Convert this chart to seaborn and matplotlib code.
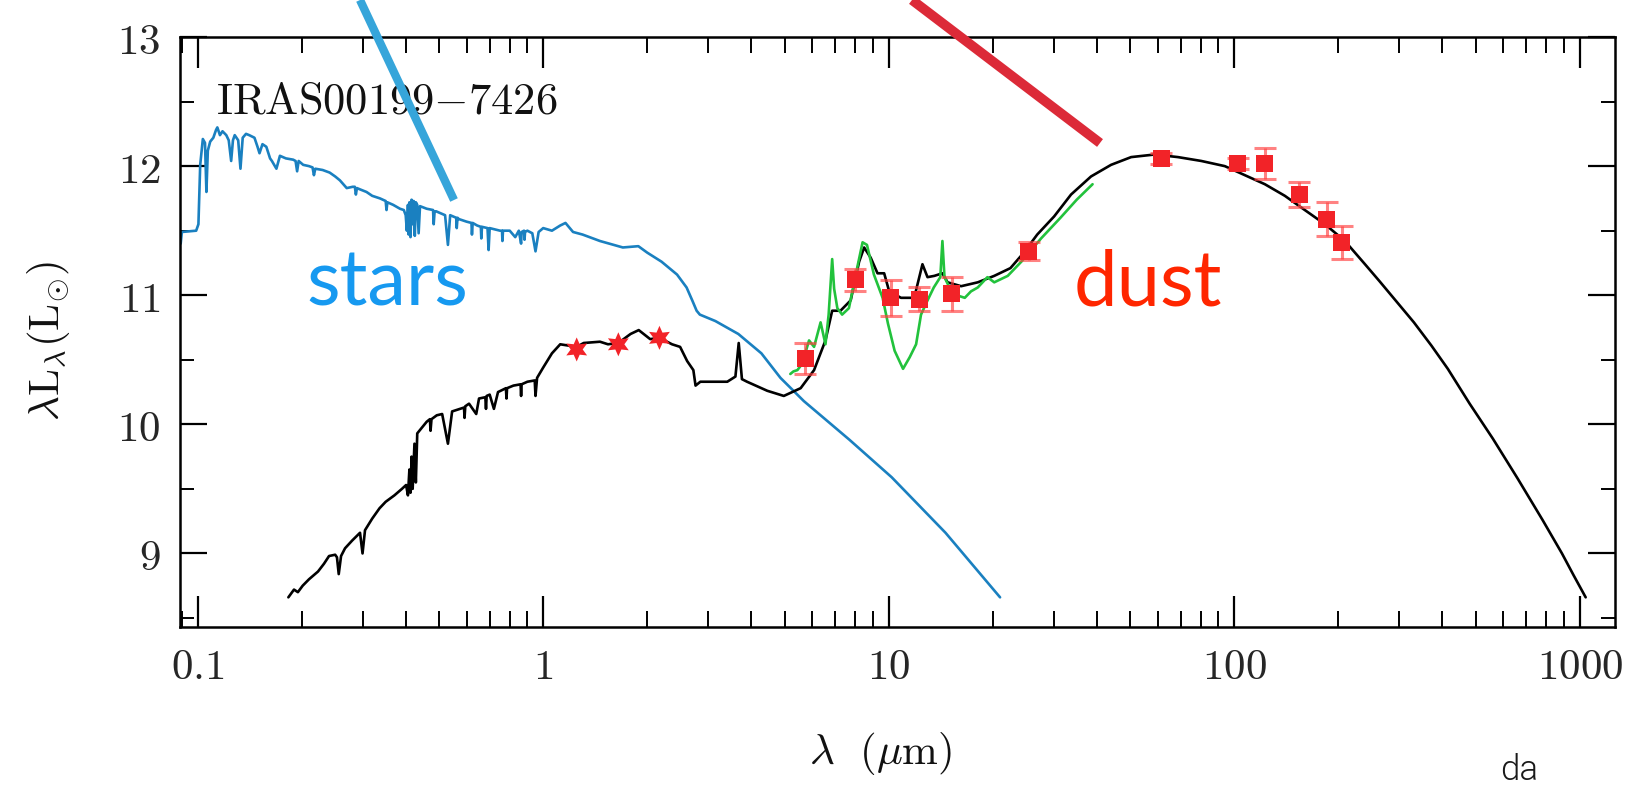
import numpy as np
import pandas as pd
import matplotlib
matplotlib.use("Agg")
import matplotlib.pyplot as plt
import seaborn as sns
from matplotlib.lines import Line2D
from matplotlib.ticker import LogLocator, NullFormatter, MultipleLocator, FixedLocator

# ---------------- data ----------------
stars_wl = [0.0887, 0.0893, 0.0900, 0.0990, 0.1005, 0.1017, 0.1030, 0.1035, 0.1050, 0.1060,
            0.1070, 0.1087, 0.1110, 0.1130, 0.1140, 0.1160, 0.1180, 0.1210, 0.1230, 0.1250,
            0.1265, 0.1280, 0.1310, 0.1330, 0.1350, 0.1380, 0.1410, 0.1460, 0.1490, 0.1510,
            0.1540, 0.1580, 0.1620, 0.1640, 0.1690, 0.1730, 0.1800, 0.1890, 0.1920, 0.1940,
            0.1960, 0.2020, 0.2100, 0.2150, 0.2170, 0.2190, 0.2300, 0.2410, 0.2500, 0.2580,
            0.2700, 0.2810, 0.2850, 0.2870, 0.2890, 0.2950, 0.3080, 0.3200, 0.3370, 0.3500,
            0.3520, 0.3540, 0.3680, 0.3850, 0.3950, 0.4000, 0.4030, 0.4060, 0.4080, 0.4100,
            0.4130, 0.4160, 0.4190, 0.4220, 0.4250, 0.4280, 0.4320, 0.4360, 0.4400, 0.4500,
            0.4600, 0.4800, 0.4820, 0.4850, 0.4900, 0.5200, 0.5300, 0.5380, 0.5600, 0.5620,
            0.5650, 0.5700, 0.6000, 0.6200, 0.6220, 0.6250, 0.6440, 0.6600, 0.6620, 0.6650,
            0.6900, 0.6950, 0.7000, 0.7500, 0.7600, 0.7620, 0.7650, 0.8000, 0.8300, 0.8500,
            0.8630, 0.8660, 0.8800, 0.8830, 0.8860, 0.9000, 0.9300, 0.9500, 0.9700, 1.0000,
            1.0600, 1.1200, 1.1600, 1.2200, 1.3000, 1.4600, 1.7000, 1.8850, 2.0000, 2.2000,
            2.4400, 2.6000, 2.7000, 2.7800, 2.8400, 3.1500, 3.6700, 4.2800, 4.8600, 5.6800,
            7.7000, 10.200, 14.600, 21.000]
stars_L = [11.46, 11.40, 11.49, 11.50, 11.55, 12.01, 12.15, 12.21, 12.18, 11.80,
           12.12, 12.19, 12.22, 12.28, 12.30, 12.24, 12.27, 12.24, 12.20, 12.04,
           12.20, 12.24, 12.20, 11.98, 12.22, 12.25, 12.24, 12.22, 12.15, 12.10,
           12.17, 12.15, 12.06, 12.04, 11.98, 12.08, 12.06, 12.05, 12.04, 11.96,
           12.04, 12.01, 12.00, 11.99, 11.93, 11.98, 11.97, 11.95, 11.92, 11.89,
           11.83, 11.84, 11.84, 11.78, 11.83, 11.82, 11.80, 11.77, 11.75, 11.73,
           11.66, 11.72, 11.70, 11.67, 11.66, 11.62, 11.50, 11.70, 11.47, 11.72,
           11.45, 11.74, 11.55, 11.73, 11.46, 11.72, 11.70, 11.48, 11.69, 11.68,
           11.67, 11.66, 11.55, 11.65, 11.65, 11.62, 11.39, 11.62, 11.60, 11.52,
           11.60, 11.59, 11.57, 11.56, 11.47, 11.56, 11.54, 11.53, 11.44, 11.53,
           11.52, 11.35, 11.52, 11.50, 11.50, 11.42, 11.50, 11.50, 11.45, 11.50,
           11.40, 11.49, 11.50, 11.43, 11.49, 11.50, 11.48, 11.34, 11.49, 11.52,
           11.50, 11.54, 11.56, 11.49, 11.47, 11.42, 11.37, 11.38, 11.33, 11.26,
           11.16, 11.06, 10.96, 10.88, 10.85, 10.80, 10.70, 10.55, 10.36, 10.18,
           9.88, 9.59, 9.16, 8.66]

total_wl = [0.183, 0.190, 0.195, 0.2013, 0.210, 0.223, 0.232, 0.240, 0.250, 0.253,
            0.256, 0.260, 0.267, 0.280, 0.295, 0.300, 0.305, 0.310, 0.320, 0.336,
            0.350, 0.371, 0.390, 0.401, 0.406, 0.410, 0.413, 0.416, 0.419, 0.424,
            0.428, 0.432, 0.438, 0.460, 0.470, 0.472, 0.475, 0.492, 0.510, 0.530,
            0.545, 0.574, 0.590, 0.592, 0.595, 0.610, 0.640, 0.652, 0.680, 0.683,
            0.686, 0.700, 0.720, 0.740, 0.780, 0.783, 0.786, 0.820, 0.860, 0.863,
            0.866, 0.900, 0.945, 0.950, 0.960, 1.00, 1.06, 1.12, 1.25, 1.31,
            1.46, 1.54, 1.65, 1.79, 1.89, 2.04, 2.17, 2.36, 2.49, 2.61,
            2.72, 2.76, 2.85, 3.41, 3.60, 3.68, 3.76, 3.89, 4.45, 4.97,
            5.56, 6.08, 6.56, 6.86, 7.25, 7.76, 8.21, 8.49, 8.87, 9.28,
            9.70, 10.03, 10.85, 11.85, 12.52, 12.95, 13.55, 14.3, 14.8, 16.2,
            18.1, 20.2, 22.5, 24.6, 26.9, 30.1, 33.7, 38.5, 44.0, 50.3,
            58.8, 68.7, 80.3, 93.9, 107.3, 122.6, 140.1, 160.0, 183.0, 209.0,
            239.0, 263.0, 295.0, 331.0, 372.0, 415.0, 480.0, 560.0, 661.0, 780.0,
            888.0, 960.0, 1040.0]
total_L = [8.66, 8.72, 8.70, 8.75, 8.80, 8.86, 8.92, 8.98, 8.99, 8.97,
           8.84, 8.98, 9.04, 9.10, 9.16, 9.00, 9.18, 9.21, 9.27, 9.35,
           9.40, 9.45, 9.50, 9.53, 9.45, 9.65, 9.47, 9.75, 9.50, 9.85,
           9.55, 9.93, 9.95, 10.02, 10.04, 9.95, 10.04, 10.07, 10.08, 9.85,
           10.10, 10.12, 10.13, 10.05, 10.14, 10.16, 10.08, 10.20, 10.21, 10.12,
           10.22, 10.23, 10.12, 10.25, 10.28, 10.20, 10.28, 10.30, 10.31, 10.22,
           10.31, 10.33, 10.34, 10.22, 10.36, 10.44, 10.55, 10.62, 10.60, 10.63,
           10.64, 10.62, 10.63, 10.70, 10.73, 10.66, 10.67, 10.62, 10.60, 10.49,
           10.42, 10.30, 10.33, 10.33, 10.37, 10.63, 10.35, 10.33, 10.26, 10.22,
           10.28, 10.42, 10.65, 10.88, 10.88, 10.96, 11.26, 11.37, 11.29, 11.17,
           11.17, 11.03, 10.98, 10.98, 11.24, 11.14, 11.15, 11.17, 11.10, 11.07,
           11.10, 11.15, 11.21, 11.33, 11.47, 11.61, 11.78, 11.92, 12.01, 12.07,
           12.09, 12.07, 12.04, 12.00, 11.93, 11.86, 11.77, 11.66, 11.55, 11.42,
           11.24, 11.11, 10.95, 10.79, 10.61, 10.43, 10.16, 9.89, 9.58, 9.26,
           9.00, 8.83, 8.66]

irs_wl = [5.19, 5.30, 5.44, 5.55, 5.69, 5.88, 6.08, 6.35, 6.56, 6.70,
          6.86, 6.95, 7.10, 7.33, 7.67, 8.10, 8.40, 8.65, 9.06, 9.60,
          9.95, 10.4, 11.0, 11.5, 12.0, 12.4, 12.95, 13.5, 14.1, 14.3,
          14.5, 15.3, 16.6, 17.3, 18.1, 19.3, 20.2, 22.1, 24.2, 27.6,
          31.4, 35.0, 38.9]
irs_L = [10.39, 10.41, 10.42, 10.45, 10.52, 10.65, 10.60, 10.79, 10.62, 10.85,
         11.28, 11.05, 10.90, 10.85, 10.90, 11.21, 11.41, 11.39, 11.16, 10.98,
         10.78, 10.57, 10.43, 10.52, 10.62, 10.85, 10.96, 11.06, 11.14, 11.42,
         11.14, 11.01, 10.98, 11.03, 11.06, 11.14, 11.10, 11.15, 11.26, 11.44,
         11.60, 11.74, 11.86]

nir_wl = [1.25, 1.65, 2.17]
nir_L = [10.58, 10.62, 10.67]

phot_wl = [5.74, 8.0, 10.12, 12.25, 15.2, 25.4, 61.5, 102.3, 122.6, 154.0, 185.0, 205.0]
phot_L = [10.51, 11.12, 10.98, 10.97, 11.01, 11.34, 12.06, 12.02, 12.02, 11.78, 11.59, 11.41]
phot_err = [0.12, 0.085, 0.14, 0.09, 0.13, 0.07, 0.04, 0.04, 0.12, 0.10, 0.13, 0.13]

x_ticks = [0.1, 1, 10, 100, 1000]
x_ticklabels = ["0.1", "1", "10", "100", "1000"]
y_ticks = [9, 10, 11, 12, 13]
y_ticklabels = ["9", "10", "11", "12", "13"]

# ---------------- style ----------------
sns.set_theme(style="ticks")
plt.rcParams["mathtext.fontset"] = "cm"
plt.rcParams["font.family"] = ["DejaVu Serif"]

fig = plt.figure(figsize=(16.44, 7.93), dpi=100)
fig.patch.set_facecolor("white")
ax = fig.add_axes([0.1095, 0.2093, 0.8729, 0.7440])
ax.set_facecolor("white")
ax.set_xscale("log")

stars_df = pd.DataFrame({"wl": stars_wl, "L": stars_L})
total_df = pd.DataFrame({"wl": total_wl, "L": total_L})
irs_df = pd.DataFrame({"wl": irs_wl, "L": irs_L})

sns.lineplot(data=stars_df, x="wl", y="L", ax=ax, color="#1a80c0", lw=1.9,
             sort=False, estimator=None)
sns.lineplot(data=total_df, x="wl", y="L", ax=ax, color="black", lw=1.9,
             sort=False, estimator=None)
sns.lineplot(data=irs_df, x="wl", y="L", ax=ax, color="#22c23c", lw=1.9,
             sort=False, estimator=None)

ax.errorbar(phot_wl, phot_L, yerr=phot_err, fmt="none", ecolor=(1.0, 0.25, 0.25, 0.65),
            elinewidth=2.2, capsize=8, capthick=2.2, zorder=4)
sns.scatterplot(x=phot_wl, y=phot_L, ax=ax, marker="s", s=150, color="#f22328",
                edgecolor="none", zorder=5)
sns.scatterplot(x=nir_wl, y=nir_L, ax=ax, marker=(6, 1, 0), s=300, color="#f22328",
                edgecolor="none", zorder=5)

ax.set_xlim(0.0889, 1265)
ax.set_ylim(8.43, 13)

ax.xaxis.set_major_locator(FixedLocator(x_ticks))
ax.set_xticklabels([f"${t}$" for t in x_ticklabels])
ax.xaxis.set_minor_locator(LogLocator(base=10, subs=np.arange(2, 10)))
ax.xaxis.set_minor_formatter(NullFormatter())
ax.yaxis.set_major_locator(FixedLocator(y_ticks))
ax.set_yticklabels([f"${t}$" for t in y_ticklabels])
ax.yaxis.set_minor_locator(MultipleLocator(0.5))

ax.tick_params(axis="x", which="major", direction="in", top=True, bottom=True,
               length=22, width=1.6, labelsize=31, pad=14, color="black")
ax.tick_params(axis="x", which="minor", direction="in", top=True, bottom=True,
               length=11.5, width=1.4, color="black")
ax.tick_params(axis="y", which="major", direction="in", left=True, right=True,
               length=19.5, width=1.6, labelsize=31, pad=14, color="black")
ax.tick_params(axis="y", which="minor", direction="in", left=True, right=True,
               length=10, width=1.4, color="black")
for sp in ax.spines.values():
    sp.set_linewidth(1.8)
    sp.set_color("black")

ax.set_xlabel(r"$\lambda\ \ (\mu\mathrm{m})$", fontsize=31, color="#111111")
ax.set_ylabel(r"$\lambda \mathrm{L}_{\lambda}(\mathrm{L}_{\odot})$", fontsize=31, color="#111111")
ax.xaxis.set_label_coords(0.4885, -0.175)
ax.yaxis.set_label_coords(-0.075, 0.486)

ax.text(0.025, 0.871, r"$\mathrm{IRAS00199{-}7426}$", transform=ax.transAxes,
        fontsize=32, color="#111111", ha="left", va="baseline")

ax.text(0.1443, 0.5458, "stars", transform=ax.transAxes, fontsize=56,
        family=["Lato", "DejaVu Sans"], color="#1699f0", ha="center", va="baseline")
ax.text(0.6746, 0.5458, "dust", transform=ax.transAxes, fontsize=56,
        family=["Lato", "DejaVu Sans"], color="#ff2600", ha="center", va="baseline")

fig.text(1519 / 1644, 1 - 780 / 793, "da", fontsize=25, family=["Roboto", "DejaVu Sans"],
         fontweight=300, color="#1a1a1a", ha="center", va="baseline")

# callout strokes
fig.add_artist(Line2D([360 / 1644, 454 / 1644], [1.0, 1 - 200 / 793],
                      transform=fig.transFigure, color="#36a5da", lw=6,
                      solid_capstyle="butt", zorder=10))
fig.add_artist(Line2D([912 / 1644, 1100 / 1644], [1.0, 1 - 143 / 793],
                      transform=fig.transFigure, color="#dc2a38", lw=7,
                      solid_capstyle="butt", zorder=10))

fig.savefig("out.png", dpi=100, facecolor="white")
